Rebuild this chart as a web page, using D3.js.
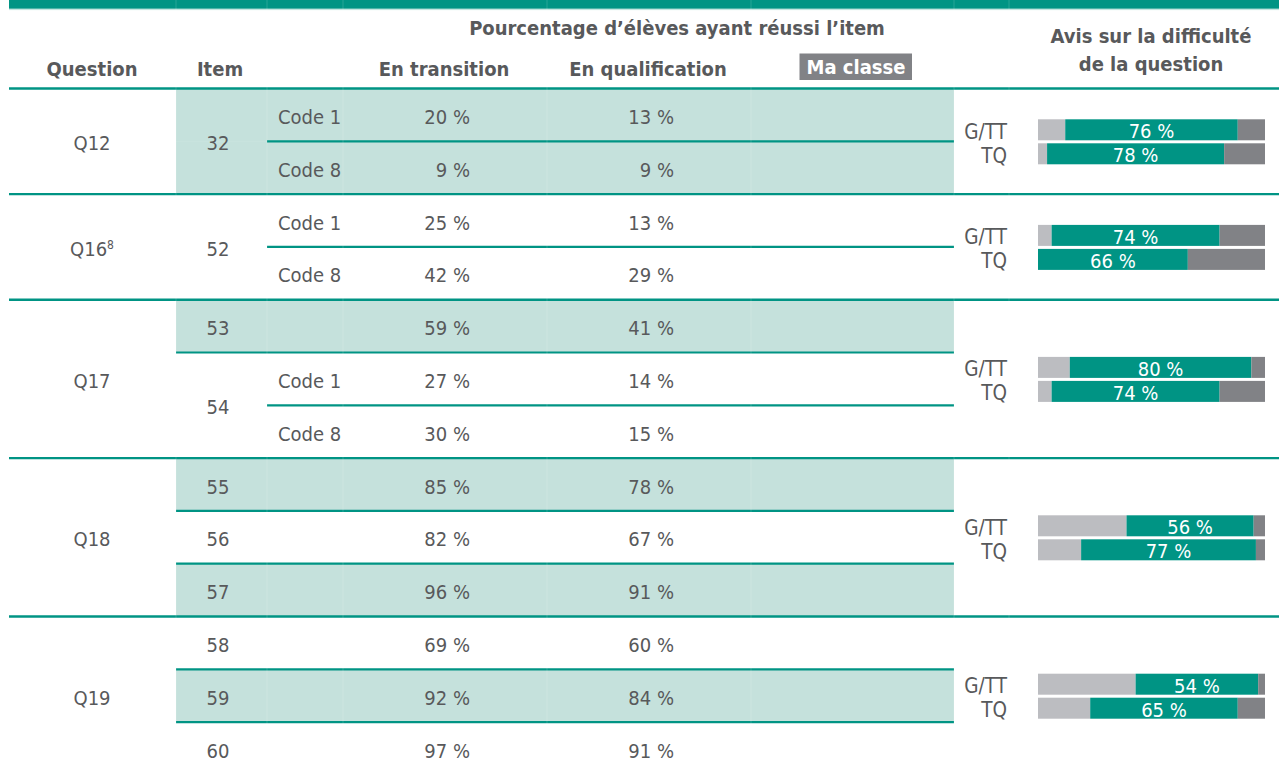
<!DOCTYPE html>
<html>
<head>
<meta charset="utf-8">
<script src="https://cdn.jsdelivr.net/npm/d3@7"></script>
<style>
  html, body { margin: 0; padding: 0; background: #fff; }
  svg { display: block; }
  text { font-family: "DejaVu Sans Condensed", "DejaVu Sans", sans-serif; fill: #58595b; }
</style>
</head>
<body>
<svg id="chart" width="1279" height="770"></svg>
<script>
// ---- data ----
const rowQuestion = ["Q12","Q12","Q16","Q16","Q17","Q17","Q17","Q18","Q18","Q18","Q19","Q19","Q19"];
const rowItem = ["32","32","52","52","53","54","54","55","56","57","58","59","60"];
const rowCode = ["Code 1","Code 8","Code 1","Code 8","","Code 1","Code 8","","","","","",""];
const transition = [20, 9, 25, 42, 59, 27, 30, 85, 82, 96, 69, 92, 97];
const qualification = [13, 9, 13, 29, 41, 14, 15, 78, 67, 91, 60, 84, 91];
const shadedItems = ["32","53","55","57","59"];

const questions = ["Q12","Q16","Q17","Q18","Q19"];
const questionNotes = ["", "8", "", "", ""];
const avisGroups = ["G/TT","TQ"];
// light grey / teal / dark grey shares (%)
const avisLightGTT = [12, 6, 14, 39, 43];
const avisTealGTT  = [76, 74, 80, 56, 54];
const avisDarkGTT  = [12, 20, 6, 5, 3];
const avisLightTQ  = [4, 0, 6, 19, 23];
const avisTealTQ   = [78, 66, 74, 77, 65];
const avisDarkTQ   = [18, 34, 20, 4, 12];

const headerTop = "Pourcentage d\u2019élèves ayant réussi l\u2019item";
const colHeaders = ["Question", "Item", "En transition", "En qualification", "Ma classe"];
const avisHeader = ["Avis sur la difficulté", "de la question"];

// ---- drawing ----
const TEAL = "#009484", SHADE = "#c5e1dc", LIGHT = "#bcbdc1", DARK = "#818286";
const svg = d3.select("#chart");
const W = 1279;

const rowIdx = d3.range(rowItem.length);
const y = d3.scaleBand().domain(rowIdx).range([88.5, 88.5 + 13 * 52.8]).paddingInner(0).paddingOuter(0);

// top band
svg.append("rect").attr("x", 9).attr("y", 0).attr("width", W - 9).attr("height", 8.7).attr("fill", TEAL);
svg.append("line").attr("x1", 9).attr("x2", W).attr("y1", 9.6).attr("y2", 9.6)
  .attr("stroke", "#bfe3dd").attr("stroke-width", 1);

// shading (Item..Ma classe columns)
svg.append("g").selectAll("rect")
  .data(rowIdx.filter(i => shadedItems.includes(rowItem[i])))
  .join("rect")
  .attr("x", 176).attr("width", 954 - 176)
  .attr("y", i => y(i))
  .attr("height", y.bandwidth() + 0.5)
  .attr("fill", SHADE);

// question groups
const qGroups = questions.map(q => {
  const idx = rowIdx.filter(i => rowQuestion[i] === q);
  return { q, start: y(idx[0]), end: y(idx[idx.length - 1]) + y.bandwidth(), idx };
});

// horizontal lines
const lines = svg.append("g");
lines.append("line").attr("x1", 9).attr("x2", W).attr("y1", 88.5).attr("y2", 88.5)
  .attr("stroke", TEAL).attr("stroke-width", 2.4);
qGroups.forEach((g, gi) => {
  if (gi < qGroups.length - 1) {
    lines.append("line").attr("x1", 9).attr("x2", W).attr("y1", g.end).attr("y2", g.end)
      .attr("stroke", TEAL).attr("stroke-width", 2.4);
  }
  g.idx.slice(1).forEach(i => {
    const sameItem = rowItem[i] === rowItem[i - 1];
    lines.append("line").attr("x1", sameItem ? 267 : 176).attr("x2", 954)
      .attr("y1", y(i)).attr("y2", y(i))
      .attr("stroke", TEAL).attr("stroke-width", 2.2);
  });
});

// faint cell boundaries
[176, 267, 343, 547, 751, 954, 1009].forEach(x => {
  svg.append("line").attr("x1", x).attr("x2", x).attr("y1", 0).attr("y2", 770)
    .attr("stroke", "#ffffff").attr("stroke-opacity", 0.15).attr("stroke-width", 1);
});

// headers
svg.append("text").attr("x", 677).attr("y", 35).attr("text-anchor", "middle")
  .attr("font-weight", "bold").attr("font-size", 20).text(headerTop);
const hx = [92, 220, 444, 648];
colHeaders.slice(0, 4).forEach((t, i) => {
  svg.append("text").attr("x", hx[i]).attr("y", 76).attr("text-anchor", "middle")
    .attr("font-weight", "bold").attr("font-size", 20).text(t);
});
svg.append("rect").attr("x", 799.5).attr("y", 53.5).attr("width", 112.5).attr("height", 26.5).attr("fill", DARK);
svg.append("text").attr("x", 856).attr("y", 74).attr("text-anchor", "middle")
  .attr("font-weight", "bold").attr("font-size", 20).style("fill", "#fff").text(colHeaders[4]);
avisHeader.forEach((t, i) => {
  svg.append("text").attr("x", 1151).attr("y", i === 0 ? 43 : 71).attr("text-anchor", "middle")
    .attr("font-weight", "bold").attr("font-size", 20).text(t);
});

// body cells
const body = svg.append("g").attr("font-size", 20);
const mid = i => y(i) + y.bandwidth() / 2;

// Question labels
qGroups.forEach((g, gi) => {
  const t = body.append("text").attr("x", 92).attr("y", (g.start + g.end) / 2 + 9).attr("text-anchor", "middle");
  t.append("tspan").text(g.q);
  if (questionNotes[gi]) {
    t.append("tspan").attr("font-size", 12).attr("dy", -7).text(questionNotes[gi]);
  }
});

// Item labels (merge consecutive identical items)
const itemRuns = [];
rowIdx.forEach(i => {
  if (i > 0 && rowItem[i] === rowItem[i - 1]) itemRuns[itemRuns.length - 1].end = i;
  else itemRuns.push({ item: rowItem[i], start: i, end: i });
});
itemRuns.forEach(r => {
  const cy = (y(r.start) + y(r.end) + y.bandwidth()) / 2;
  body.append("text").attr("x", 218).attr("y", cy + 9).attr("text-anchor", "middle").text(r.item);
});

// Codes
rowIdx.filter(i => rowCode[i]).forEach(i => {
  body.append("text").attr("x", 278).attr("y", mid(i) + 9).text(rowCode[i]);
});
// values
rowIdx.forEach(i => {
  body.append("text").attr("x", 470).attr("y", mid(i) + 9).attr("text-anchor", "end").text(transition[i] + " %");
  body.append("text").attr("x", 674).attr("y", mid(i) + 9).attr("text-anchor", "end").text(qualification[i] + " %");
});

// Avis bars
const xb = d3.scaleLinear().domain([0, 100]).range([1038, 1265]);
const avisSeries = [
  { g: avisGroups[0], light: avisLightGTT, teal: avisTealGTT, dark: avisDarkGTT, off: -22.5 },
  { g: avisGroups[1], light: avisLightTQ, teal: avisTealTQ, dark: avisDarkTQ, off: 1.5 }
];
const bars = svg.append("g");
qGroups.forEach((g, gi) => {
  const cy = (g.start + g.end) / 2 + 0.5;
  avisSeries.forEach(s => {
    const top = cy + s.off, h = 21;
    const a = s.light[gi], b = s.teal[gi], c = s.dark[gi];
    const segs = [[0, a, LIGHT], [a, a + b, TEAL], [a + b, a + b + c, DARK]];
    segs.forEach(([v0, v1, col]) => {
      if (v1 > v0) bars.append("rect").attr("x", xb(v0)).attr("width", xb(v1) - xb(v0))
        .attr("y", top).attr("height", h).attr("fill", col);
    });
    bars.append("text").attr("x", (xb(a) + xb(a + b)) / 2).attr("y", top + h - 2)
      .attr("text-anchor", "middle").attr("font-size", 20).style("fill", "#fff").text(b + " %");
    bars.append("text").attr("x", 1007).attr("y", top + h - 1.5)
      .attr("text-anchor", "end").attr("font-size", 20.5).text(s.g);
  });
});
</script>
</body>
</html>
